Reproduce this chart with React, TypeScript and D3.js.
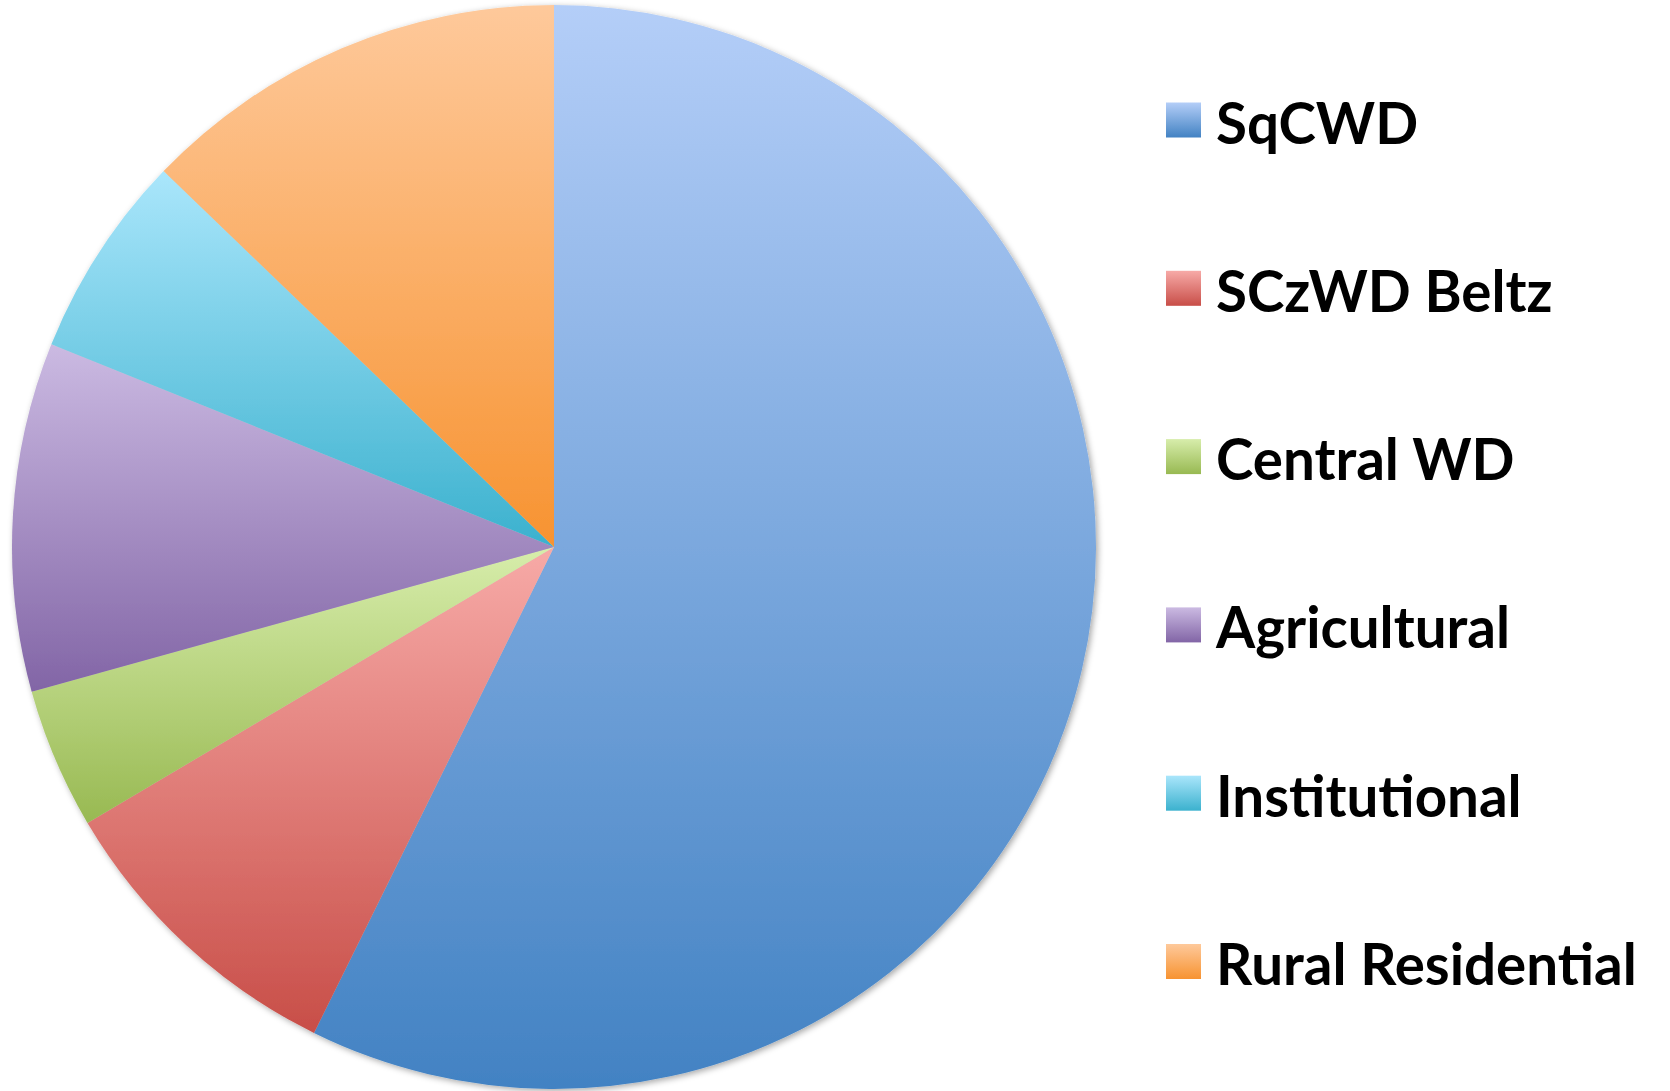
import React from "react";
import * as d3 from "d3";

const categories = ["SqCWD", "SCzWD Beltz", "Central WD", "Agricultural", "Institutional", "Rural Residential"];
const values = [57.3, 9.2, 4.2, 10.4, 6.1, 12.8];
const topColors = ["#b4cef8", "#f7aaa7", "#d7edab", "#cbbae2", "#aae6fb", "#fec99b"];
const bottomColors = ["#4282c3", "#c84e48", "#98b952", "#8265a6", "#3bb1ce", "#f79331"];

const W = 1670;
const H = 1091;
const cx = 554;
const cy = 547;
const R = 542;
const legendX = 1166;
const legendBase0 = 143.5;
const legendStep = 168.3;

export default function App() {
  const pie = d3.pie<number>().sort(null).value((d) => d)(values);
  const arc = d3.arc<d3.PieArcDatum<number>>().innerRadius(0).outerRadius(R);
  const rowScale = d3.scaleLinear().domain([0, 1]).range([legendBase0, legendBase0 + legendStep]);

  return (
    <svg
      width={W}
      height={H}
      style={{ position: "absolute", left: 0, top: 0, background: "#ffffff" }}
      xmlns="http://www.w3.org/2000/svg"
    >
      <defs>
        {categories.map((c, i) => (
          <linearGradient key={c} id={`g${i}`} x1="0" y1="0" x2="0" y2="1">
            <stop offset="0" stopColor={topColors[i]} />
            <stop offset="1" stopColor={bottomColors[i]} />
          </linearGradient>
        ))}
        <filter id="shadow" x="-10%" y="-10%" width="120%" height="120%">
          <feDropShadow dx="2" dy="2" stdDeviation="3" floodColor="#000" floodOpacity="0.35" />
        </filter>
      </defs>
      <g transform={`translate(${cx},${cy})`} filter="url(#shadow)">
        {pie.map((p, i) => (
          <path key={categories[i]} d={arc(p) || ""} fill={`url(#g${i})`} />
        ))}
      </g>
      <g>
        {categories.map((c, i) => {
          const base = rowScale(i);
          return (
            <g key={c}>
              <rect x={legendX} y={base - 41} width={35} height={35} fill={`url(#g${i})`} />
              <text
                x={legendX + 50}
                y={base}
                fontFamily="Lato, sans-serif"
                fontWeight={700}
                fontSize={56.5}
                fill="#000"
              >
                {c}
              </text>
            </g>
          );
        })}
      </g>
    </svg>
  );
}
